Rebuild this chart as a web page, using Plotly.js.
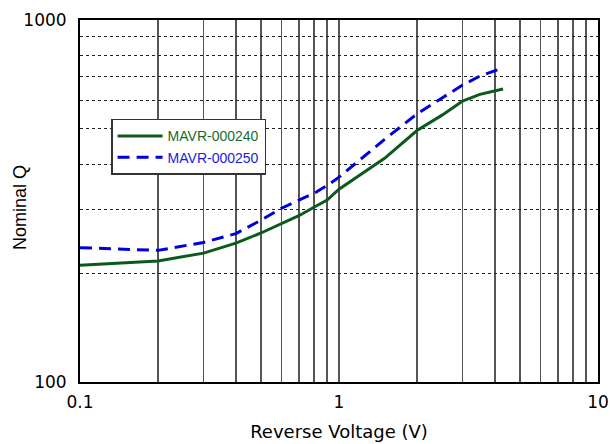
<!DOCTYPE html>
<html><head><meta charset="utf-8">
<script src="https://cdn.plot.ly/plotly-3.0.1.min.js"></script>
<style>html,body{margin:0;padding:0;background:#fff}#chart{width:610px;height:444px}</style>
</head><body><div id="chart"></div>
<script>
const voltage = [0.1, 0.2, 0.3, 0.4, 0.5, 0.6, 0.7, 0.8, 0.9, 1.0, 1.5, 2.0, 2.5, 3.0, 3.5, 4.3];
const q240 = [210, 216, 227, 242, 258, 274, 288, 304, 318, 341, 415, 495, 546, 597, 623, 645];
const q250 = [235, 231, 243, 257, 280, 302, 318, 332, 349, 368, 468, 550, 609, 661, 700, 738];
const seriesNames = ["MAVR-000240", "MAVR-000250"];
const xTicks = [0.1,0.2,0.3,0.4,0.5,0.6,0.7,0.8,0.9,1,2,3,4,5,6,7,8,9,10];
const xTickText = ["0.1","","","","","","","","","1","","","","","","","","","10"];
const yTicks = [100,200,300,400,500,600,700,800,900,1000];
const yTickText = ["100","","","","","","","","","1000"];
const yTitle = "Nominal Q";

const traces = [
  {x: voltage, y: q240, mode: 'lines', name: '<span style="color:#1a6b2a">' + seriesNames[0] + '</span>',
   line: {color: '#0b5a1c', width: 3}},
  {x: voltage, y: q250, mode: 'lines', name: '<span style="color:#1a1ae0">' + seriesNames[1] + '</span>',
   line: {color: '#0000dd', width: 3, dash: '12px,7px'}}
];
const layout = {
  width: 610, height: 444,
  margin: {l: 80, r: 12, t: 20, b: 62},
  paper_bgcolor: '#fff', plot_bgcolor: '#fff',
  font: {family: 'DejaVu Sans, sans-serif', color: '#000', size: 17},
  showlegend: true,
  legend: {x: 0.06, y: 0.727, xanchor: 'left', yanchor: 'top', bgcolor: '#fff',
    bordercolor: '#333', borderwidth: 1.5, itemwidth: 45,
    font: {size: 14, family: 'Liberation Sans, Arial, sans-serif'}, tracegroupgap: 0},
  xaxis: {type: 'log', range: [-1, 1], tickvals: xTicks, ticktext: xTickText,
    showgrid: true, gridcolor: '#555', gridwidth: 1.5,
    showline: true, mirror: true, linecolor: '#000', linewidth: 2,
    ticks: 'outside', ticklen: 4, tickcolor: 'rgba(0,0,0,0)', zeroline: false,
    title: {text: 'Reverse Voltage (V)', font: {size: 18}, standoff: 14}},
  yaxis: {type: 'log', range: [2, 3], tickvals: yTicks, ticktext: yTickText,
    showgrid: true, gridcolor: '#222', gridwidth: 1, griddash: 'dot',
    showline: true, mirror: true, linecolor: '#000', linewidth: 2,
    ticks: 'outside', ticklen: 8, tickcolor: 'rgba(0,0,0,0)', zeroline: false},
  annotations: [{text: yTitle, xref: 'paper', yref: 'paper', x: -0.116, y: 0.483,
    xanchor: 'center', yanchor: 'middle', textangle: -90, showarrow: false,
    font: {size: 18, family: 'Liberation Sans, Arial, sans-serif', color: '#000'}}]
};
Plotly.newPlot('chart', traces, layout, {displayModeBar: false, staticPlot: true});
</script></body></html>
